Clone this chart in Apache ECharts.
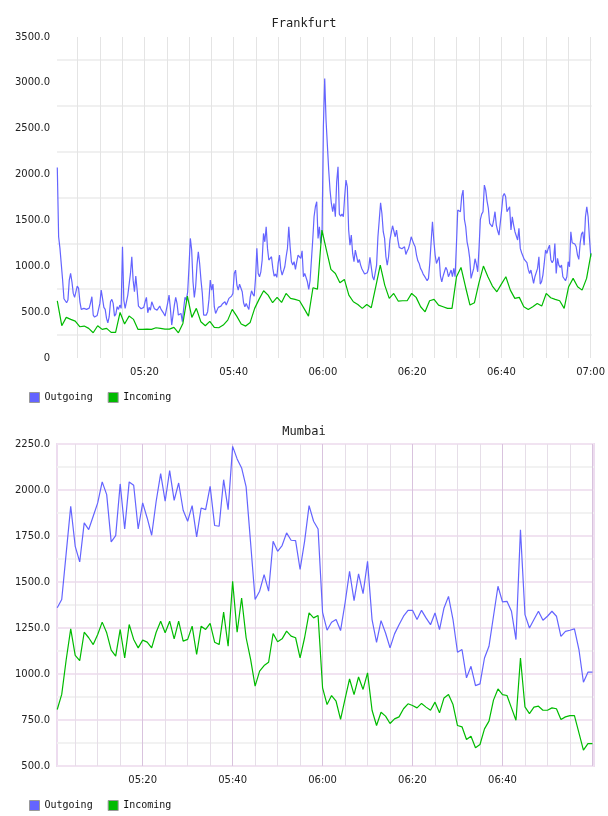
<!DOCTYPE html>
<html>
<head>
<meta charset="utf-8">
<script src="https://cdn.jsdelivr.net/npm/echarts@6/dist/echarts.min.js"></script>
<style>
html, body { margin: 0; padding: 0; background: #fff; }
#chart { width: 608px; height: 816px; }
</style>
</head>
<body>
<div id="chart"></div>
<script>
// x values are minutes after 05:00
const fraOutStart = 0.466;
const fraOutStep = 0.2982;
const fraOutgoing = [
  2078, 1322, 1195, 1177, 850, 646, 650, 602, 632, 849,
  922, 831, 704, 661, 668, 784, 759, 613, 530, 537,
  541, 537, 530, 548, 544, 602, 668, 468, 446, 461,
  464, 457, 595, 741, 650, 552, 530, 432, 384, 450,
  613, 639, 595, 457, 479, 559, 530, 577, 541, 1213,
  632, 541, 541, 686, 704, 922, 1104, 849, 722, 893,
  741, 566, 548, 537, 530, 552, 613, 661, 493, 552,
  522, 613, 632, 537, 530, 522, 522, 566, 530, 522,
  486, 457, 468, 602, 686, 541, 359, 468, 577, 661,
  595, 468, 468, 486, 395, 541, 661, 632, 722, 995,
  1304, 1177, 831, 661, 777, 1013, 1159, 1031, 849, 704,
  468, 468, 468, 505, 639, 849, 740, 806, 559, 486,
  479, 552, 559, 566, 588, 573, 613, 577, 613, 650,
  661, 675, 704, 922, 958, 795, 741, 806, 795, 722,
  602, 559, 595, 559, 530, 661, 733, 697, 675, 868,
  1195, 922, 886, 940, 1068, 1358, 1267, 1431, 1195, 1068,
  1068, 1104, 977, 893, 915, 879, 1031, 1122, 966, 904,
  922, 995, 1104, 1195, 1431, 1213, 1050, 1013, 1050, 966,
  1050, 1122, 1104, 1086, 1169, 886, 922, 929, 831, 748,
  842, 831, 1286, 1540, 1649, 1704, 1304, 1431, 1249, 1358,
  2521, 3048, 2594, 2321, 2049, 1831, 1685, 1595, 1685, 1540,
  1922, 2085, 1569, 1547, 1569, 1540, 1758, 1940, 1867, 1395,
  1231, 1340, 1140, 1050, 1177, 1159, 1039, 1075, 1013, 970,
  966, 915, 900, 930, 977, 1097, 1104, 886, 849, 831,
  1013, 1322, 1504, 1693, 1576, 1377, 1304, 1104, 1013, 1104,
  1286, 1366, 1442, 1449, 1322, 1395, 1286, 1206, 1202, 1191,
  1195, 1213, 1129, 1166, 1195, 1249, 1322, 1340, 1242, 1213,
  1122, 1060, 1031, 977, 951, 915, 893, 879, 842, 868,
  1039, 1267, 1486, 1286, 1122, 1031, 1068, 1104, 893, 831,
  893, 940, 988, 959, 886, 922, 959, 886, 977, 886,
  1231, 1613, 1595, 1595, 1765, 1831, 1511, 1431, 1267, 1195,
  1086, 868, 868, 977, 1082, 1024, 940, 1195, 1511, 1569,
  1595, 1885, 1831, 1714, 1631, 1467, 1460, 1431, 1504, 1595,
  1449, 1387, 1340, 1358, 1613, 1765, 1794, 1758, 1595, 1595,
  1649, 1395, 1540, 1449, 1377, 1395, 1286, 1413, 1195, 1148,
  1159, 1075, 1086, 1039, 966, 922, 959, 886, 813, 886,
  868, 977, 1104, 806, 831, 904, 1031, 1177, 1140, 1195,
  1231, 1068, 1039, 1068, 1249, 922, 1086, 1013, 988, 1013,
  886, 868, 842, 886, 1050, 995, 1377, 1257, 1249, 1242,
  1213, 1122, 1075, 1249, 1351, 1377, 1231, 1540, 1649, 1540,
  1304, 1104
];
const fraInStart = 0.466;
const fraInStep = 1.0054;
const fraIncoming = [
  624, 352, 443, 421, 402, 341, 348, 323, 275, 352,
  312, 323, 279, 279, 497, 370, 457, 421, 312, 312,
  315, 312, 330, 323, 315, 315, 334, 275, 377, 675,
  443, 541, 395, 352, 399, 334, 330, 359, 413, 530,
  457, 370, 348, 388, 541, 642, 733, 686, 603, 661,
  606, 704, 650, 639, 624, 541, 457, 766, 751,
  1395, 1177, 966, 922, 820, 857, 686, 613, 584, 541,
  584, 548, 777, 1013, 795, 650, 704, 621, 624, 624,
  704, 661, 559, 504, 624, 639, 577, 559, 541, 541,
  886, 988, 777, 577, 603, 820, 1002, 886, 784, 722,
  806, 886, 740, 650, 661, 559, 530, 559, 595, 566,
  704, 657, 639, 624, 541, 777, 868, 777, 740, 868,
  1140
];

const mumStart = 1;
const mumStep = 1;
const mumOutgoing = [
  1360, 1405, 1658, 1912, 1694, 1609, 1821, 1785, 1857, 1930,
  2044, 1975, 1718, 1752, 2033, 1788, 2044, 2026, 1788, 1930,
  1848, 1754, 1939, 2089, 1939, 2105, 1944, 2038, 1890, 1830,
  1915, 1745, 1902, 1893, 2020, 1807, 1803, 2056, 1893, 2237,
  2169, 2120, 2017, 1712, 1405, 1450, 1540, 1450, 1721, 1667,
  1698, 1767, 1727, 1725, 1568, 1721, 1915, 1830, 1788, 1335,
  1238, 1281, 1296, 1236, 1386, 1558, 1399, 1544, 1437, 1612,
  1296, 1172, 1290, 1223, 1142, 1218, 1268, 1314, 1346, 1346,
  1296, 1346, 1305, 1268, 1332, 1241, 1359, 1422, 1296, 1118,
  1133, 979, 1042, 937, 946, 1087, 1151, 1314, 1477, 1392,
  1395, 1341, 1187, 1784, 1323, 1250, 1296, 1341, 1292, 1314,
  1341, 1314, 1205, 1232, 1238, 1245, 1133, 955, 1010, 1010
];
const mumIncoming = [
  807, 889, 1079, 1245, 1101, 1073, 1227, 1197, 1160, 1215,
  1282, 1224, 1130, 1097, 1242, 1088, 1269, 1188, 1142, 1184,
  1173, 1142, 1227, 1287, 1224, 1287, 1191, 1287, 1179, 1188,
  1260, 1106, 1260, 1242, 1275, 1173, 1160, 1336, 1151, 1504,
  1227, 1413, 1197, 1079, 934, 1016, 1046, 1064, 1220, 1175,
  1191, 1233, 1206, 1197, 1088, 1197, 1332, 1305, 1318, 925,
  834, 883, 852, 753, 865, 973, 888, 984, 916, 1006,
  803, 720, 792, 771, 731, 756, 767, 811, 838, 829,
  816, 840, 820, 803, 847, 789, 870, 888, 834, 720,
  713, 644, 662, 599, 617, 702, 744, 858, 919, 888,
  883, 816, 749, 1087, 821, 785, 820, 825, 803, 803,
  816, 811, 753, 767, 774, 774, 680, 586, 622, 622
];

const timeTicks = [20, 40, 60, 80, 100, 120];
const timeLabels = ['05:20', '05:40', '06:00', '06:20', '06:40', '07:00'];

const OUT = '#6464ff';
const IN = '#00bb00';
const AXIS_FONT = 'DejaVu Sans';
const MONO = 'DejaVu Sans Mono';

function pairs(values, start, step) {
  return values.map((v, i) => [start + i * step, v]);
}

function timeFmt(skip) {
  return (v) => {
    const r = Math.round(v);
    if (Math.abs(v - r) > 1e-6 || r === skip) return '';
    const i = timeTicks.indexOf(r);
    return i < 0 ? '' : timeLabels[i];
  };
}

const labelStyle = { fontFamily: AXIS_FONT, fontSize: 10, color: '#222' };

function lineSeries(name, color, xi, data) {
  return {
    name, type: 'line', xAxisIndex: xi, yAxisIndex: xi,
    data, symbol: 'none', silent: true,
    lineStyle: { width: 1.2, color },
    itemStyle: { color },
  };
}

function legend(top) {
  return {
    left: 24, top, icon: 'rect', itemWidth: 10, itemHeight: 10, itemGap: 15,
    selectedMode: false,
    itemStyle: { borderColor: '#999', borderWidth: 1 },
    textStyle: { fontFamily: MONO, fontSize: 10, color: '#111' },
    data: ['Outgoing', 'Incoming'],
  };
}

const option = {
  animation: false,
  backgroundColor: '#fff',
  title: [
    { text: 'Frankfurt', left: 'center', top: 13,
      textStyle: { fontFamily: MONO, fontSize: 12, fontWeight: 'normal', color: '#222' } },
    { text: 'Mumbai', left: 'center', top: 421,
      textStyle: { fontFamily: MONO, fontSize: 12, fontWeight: 'normal', color: '#222' } },
  ],
  legend: [legend(387), legend(795)],
  grid: [
    { left: 57, top: 37, width: 536, height: 321 },
    { left: 57, top: 444, width: 537, height: 322, show: true,
      borderColor: '#eddcef', borderWidth: 2, backgroundColor: 'transparent' },
  ],
  xAxis: [
    { type: 'value', gridIndex: 0, min: 0.4, max: 120.25, splitNumber: 24,
      axisLine: { show: false }, axisTick: { show: false },
      axisLabel: { ...labelStyle, margin: 9, formatter: timeFmt(-1) },
      splitLine: { show: true, showMinLine: false, showMaxLine: false,
        lineStyle: { color: '#e4e4e4', width: 1 } } },
    { type: 'value', gridIndex: 1, min: 0.95, max: 120.35, splitNumber: 24,
      axisLine: { show: false }, axisTick: { show: false },
      axisLabel: { ...labelStyle, margin: 9, formatter: timeFmt(120) },
      splitLine: { show: true, showMinLine: false, showMaxLine: false,
        lineStyle: { color: ['#e6dee8', '#e6dee8', '#e6dee8', '#d9c3de'], width: 1 } } },
  ],
  yAxis: [
    { type: 'value', gridIndex: 0, min: 0, max: 3500, interval: 500,
      axisLine: { show: false }, axisTick: { show: false },
      axisLabel: { ...labelStyle, margin: 7, formatter: (v) => (v === 0 ? '0' : v.toFixed(1)) },
      splitLine: { show: false },
      minorTick: { show: false, splitNumber: 2 },
      minorSplitLine: { show: true, lineStyle: { color: '#f0f0f0', width: 2 } } },
    { type: 'value', gridIndex: 1, min: 500, max: 2250, interval: 250,
      axisLine: { show: false }, axisTick: { show: false },
      axisLabel: { ...labelStyle, margin: 7, formatter: (v) => v.toFixed(1) },
      splitLine: { show: true, lineStyle: { color: '#f1e3f1', width: 2 } },
      minorTick: { show: false, splitNumber: 2 },
      minorSplitLine: { show: true, lineStyle: { color: '#f2f2f2', width: 2 } } },
  ],
  series: [
    lineSeries('Outgoing', OUT, 0, pairs(fraOutgoing, fraOutStart, fraOutStep)),
    lineSeries('Incoming', IN, 0, pairs(fraIncoming, fraInStart, fraInStep)),
    lineSeries('Outgoing', OUT, 1, pairs(mumOutgoing, mumStart, mumStep)),
    lineSeries('Incoming', IN, 1, pairs(mumIncoming, mumStart, mumStep)),
  ],
};

const chart = echarts.init(document.getElementById('chart'), null, { renderer: 'canvas' });
chart.setOption(option);
</script>
</body>
</html>
